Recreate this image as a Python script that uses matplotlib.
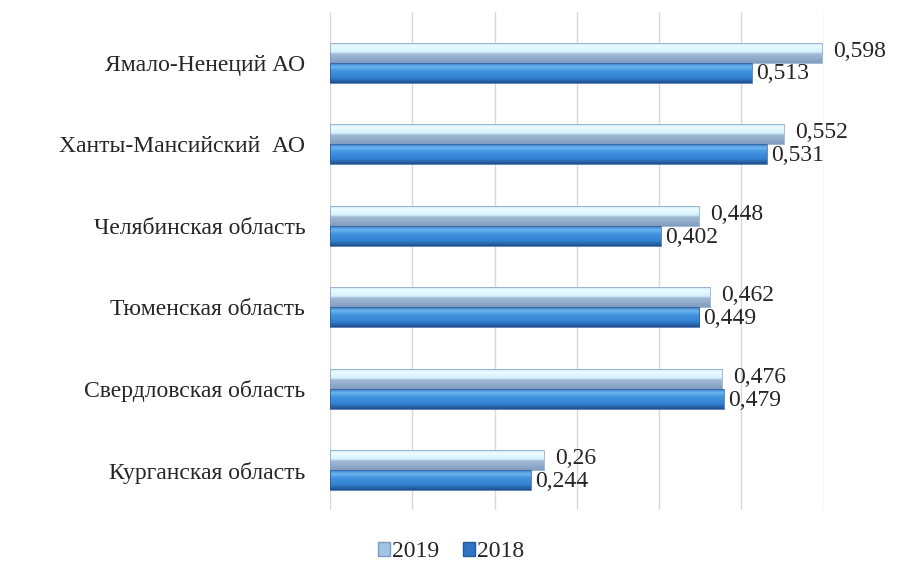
import numpy as np
import matplotlib
matplotlib.use("Agg")
import matplotlib.pyplot as plt
from matplotlib.colors import LinearSegmentedColormap
from matplotlib.patches import Patch

plt.rcParams['font.family'] = ['Liberation Serif', 'DejaVu Serif']

# data (top to bottom)
regions = ['Ямало-Ненеций АО', 'Ханты-Мансийский  АО', 'Челябинская область',
           'Тюменская область', 'Свердловская область', 'Курганская область']
vals_2019 = [0.598, 0.552, 0.448, 0.462, 0.476, 0.26]
vals_2018 = [0.513, 0.531, 0.402, 0.449, 0.479, 0.244]
labels_2019 = ['0,598', '0,552', '0,448', '0,462', '0,476', '0,26']
labels_2018 = ['0,513', '0,531', '0,402', '0,449', '0,479', '0,244']
xticks = [0, 0.1, 0.2, 0.3, 0.4, 0.5, 0.6]

# gradient "3D" colours
cm19 = LinearSegmentedColormap.from_list('c19', [
    (0.0, '#c9e9f6'), (0.15, '#ecfcff'), (0.45, '#d5f1fb'),
    (0.55, '#a3bad4'), (1.0, '#7f9cc0')])
cm18 = LinearSegmentedColormap.from_list('c18', [
    (0.0, '#3a7fcc'), (0.18, '#6cb4ef'), (0.4, '#4093df'),
    (0.75, '#3380d0'), (1.0, '#1f4f8c')])

fig = plt.figure(figsize=(9.02, 5.72), dpi=100)
ax = fig.add_axes([0.366, 0.108, 0.547, 0.871])

y = np.arange(len(regions))
h = 0.245
grad = np.linspace(0, 1, 64).reshape(-1, 1)

b19 = ax.barh(y - h / 2, vals_2019, height=h, facecolor='none',
              edgecolor='#7f9cc0', linewidth=0.5, zorder=4)
b18 = ax.barh(y + h / 2, vals_2018, height=h, facecolor='none',
              edgecolor='#24599a', linewidth=0.5, zorder=4)

for bars, cmap in ((b19, cm19), (b18, cm18)):
    for p in bars:
        x0, y0 = p.get_x(), p.get_y()
        w, hh = p.get_width(), p.get_height()
        ax.imshow(grad, cmap=cmap, aspect='auto', origin='upper',
                  extent=(x0, x0 + w, y0 + hh, y0), zorder=3)

for i in range(len(regions)):
    ax.annotate(labels_2019[i], (vals_2019[i], y[i] - h / 2), xytext=(8, 1),
                textcoords='offset points', va='center', ha='left',
                fontsize=17, color='#262626')
    ax.annotate(labels_2018[i], (vals_2018[i], y[i] + h / 2), xytext=(3, -1),
                textcoords='offset points', va='center', ha='left',
                fontsize=17, color='#262626')

ax.set_xlim(0, 0.6)
ax.set_ylim(5.49, -0.62)
ax.set_xticks(xticks)
ax.set_xticklabels([])
ax.set_yticks(y)
ax.set_yticklabels(regions, fontsize=17, color='#262626')
ax.tick_params(axis='y', length=0, pad=18)
ax.tick_params(axis='x', length=0)
ax.grid(axis='x', color='#d9d9d9', linewidth=1.0, zorder=0)
ax.set_axisbelow(True)
for s in ax.spines.values():
    s.set_visible(False)

handles = [Patch(facecolor='#9fc4e6', edgecolor='#7f9cc0', label='2019'),
           Patch(facecolor='#2f74c4', edgecolor='#24599a', label='2018')]
fig.legend(handles=handles, loc='center', bbox_to_anchor=(0.5, 0.035), ncol=2,
           frameon=False, fontsize=17, handlelength=0.5, handleheight=0.5,
           handletextpad=0.1, columnspacing=1.0, labelcolor='#262626')

fig.savefig('out.png', dpi=100)
